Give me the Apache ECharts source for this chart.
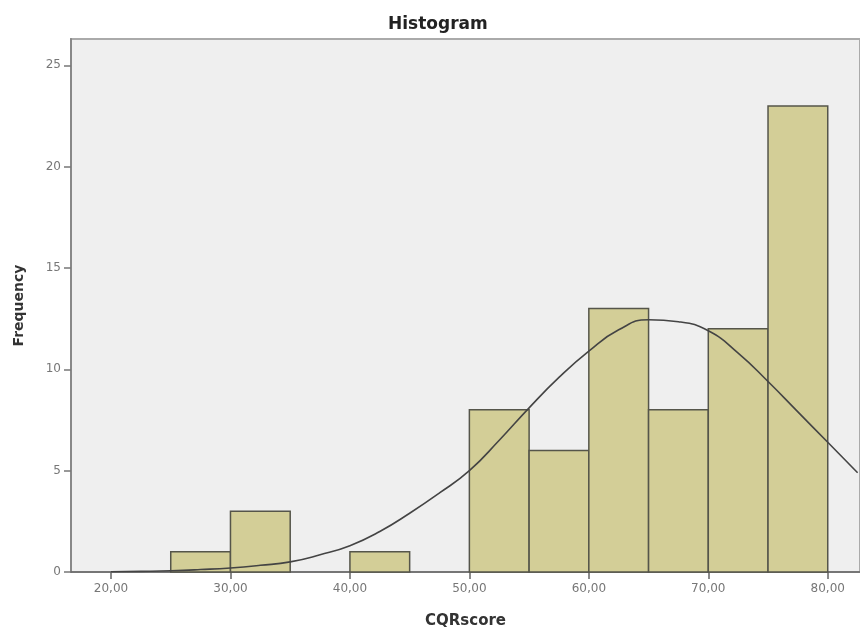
<!DOCTYPE html>
<html>
<head>
<meta charset="utf-8">
<script src="https://cdn.jsdelivr.net/npm/echarts@6/dist/echarts.min.js"></script>
<style>
  html, body { margin: 0; padding: 0; background: #fff; }
  #chart { width: 860px; height: 627px; }
</style>
</head>
<body>
<div id="chart"></div>
<script>
// histogram bins (lower / upper edge) and counts
var binLo = [25, 30, 40, 50, 55, 60, 65, 70, 75];
var binHi = [30, 35, 45, 55, 60, 65, 70, 75, 80];
var counts = [1, 3, 1, 8, 6, 13, 8, 12, 23];

// normal curve
var curveX = [20, 22.5, 25, 27.5, 30, 32.5, 35, 37.5, 40, 42.5, 45, 47.5, 50,
              52.5, 55, 57.5, 60, 62.5, 65, 67.5, 70, 72.5, 75, 77.5, 80, 82.5];
var curveY = [0.01, 0.03, 0.06, 0.12, 0.2, 0.33, 0.5, 0.85, 1.3, 2.0, 2.9, 3.9, 5.0,
              6.5, 8.1, 9.6, 10.9, 11.95, 12.45, 12.35, 11.9, 10.8, 9.4, 7.9, 6.4, 4.9];

var xTicks = [20, 30, 40, 50, 60, 70, 80];

var barData = binLo.map(function (lo, i) { return [lo, binHi[i], counts[i]]; });
var curveData = curveX.map(function (x, i) { return [x, curveY[i]]; });

var chart = echarts.init(document.getElementById('chart'));
chart.setOption({
  animation: false,
  textStyle: { fontFamily: 'DejaVu Sans, sans-serif' },
  title: {
    text: 'Histogram',
    left: 383,
    top: 11,
    textStyle: { fontSize: 17, fontWeight: 'bold', color: '#222', fontFamily: 'DejaVu Sans' }
  },
  grid: {
    left: 71, top: 39, right: 0, bottom: 55,
    outerBoundsMode: 'none',
    containLabel: false,
    show: true,
    backgroundColor: '#efefef',
    borderColor: '#aaaaaa',
    borderWidth: 2
  },
  xAxis: {
    type: 'value',
    min: 16.65,
    max: 82.7,
    name: 'CQRscore',
    nameLocation: 'middle',
    nameGap: 42,
    nameTextStyle: { fontSize: 15, fontWeight: 'bold', color: '#333', fontFamily: 'DejaVu Sans' },
    axisLine: { show: true, onZero: false, lineStyle: { color: '#666', width: 1.5 } },
    axisTick: { show: true, customValues: xTicks, length: 7, lineStyle: { color: '#666', width: 1.5 } },
    axisLabel: {
      customValues: xTicks,
      color: '#777',
      fontSize: 12,
      margin: 11,
      formatter: function (v) { return v.toFixed(2).replace('.', ','); }
    },
    splitLine: { show: false }
  },
  yAxis: {
    type: 'value',
    min: 0,
    max: 26.3,
    interval: 5,
    name: 'Frequency',
    nameLocation: 'middle',
    nameGap: 45,
    nameTextStyle: { fontSize: 14, fontWeight: 'bold', color: '#333', fontFamily: 'DejaVu Sans' },
    axisLine: { show: true, lineStyle: { color: '#888', width: 2 } },
    axisTick: { show: true, length: 7, lineStyle: { color: '#777', width: 1.5 } },
    axisLabel: {
      color: '#777',
      fontSize: 12,
      margin: 10,
      showMaxLabel: false,
      formatter: function (v) { return v % 5 === 0 ? String(v) : ''; }
    },
    splitLine: { show: false }
  },
  series: [
    {
      type: 'custom',
      data: barData,
      encode: { x: [0, 1], y: 2 },
      renderItem: function (params, api) {
        var p0 = api.coord([api.value(0), 0]);
        var p1 = api.coord([api.value(1), api.value(2)]);
        return {
          type: 'rect',
          shape: { x: p0[0], y: p1[1], width: p1[0] - p0[0], height: p0[1] - p1[1] },
          style: { fill: '#d3ce97', stroke: '#55554a', lineWidth: 1.5 }
        };
      },
      z: 2
    },
    {
      type: 'line',
      data: curveData,
      smooth: 0.5,
      showSymbol: false,
      lineStyle: { color: '#444', width: 1.6 },
      z: 3
    }
  ]
});
</script>
</body>
</html>
